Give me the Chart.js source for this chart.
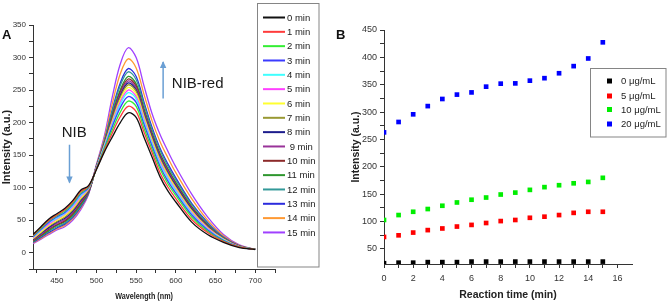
<!DOCTYPE html>
<html><head><meta charset="utf-8">
<script src="https://cdn.jsdelivr.net/npm/chart.js@4/dist/chart.umd.min.js"></script>
<style>
html,body{margin:0;padding:0;background:#fff;}
#wrap{position:relative;width:669px;height:308px;overflow:hidden;background:#fff;}
canvas{position:absolute;top:0;}
#ca{left:0;} #cb{left:330px;}
</style></head><body>
<div id="wrap"><canvas id="ca" width="330" height="308"></canvas><canvas id="cb" width="339" height="308"></canvas></div>
<script>
// ---------- Panel A data ----------
const wavelengths = [420,430,440,450,460,470,480,490,500,510,520,530,540,550,560,570,580,590,600,620,640,660,680,700];
const timeLabels = ['0 min','1 min','2 min','3 min','4 min','5 min','6 min','7 min','8 min',' 9 min','10 min','11 min','12 min','13 min','14 min','15 min'];
const min0  = [28,40,52,60,68,80,96,103,128,155,178,200,215,208,177,147,117,95,78,47,28,16,8,5];
const min1  = [27,39,50,58,66,78,94,102,129,157,184,209,225,217,185,154,123,101,83,51,31,17,8.5,5];
const min2  = [26,37.5,49,57,64,76,92,101,129,160,189,216,233,225,191,159,129,106,88,55,33,18,9,5];
const min3  = [25,36,47,55,62,74,90,100,130,161,194,223,240,231,197,164,133,110,91.5,58,35,19,9,5];
const min4  = [24,35,46,53,60.5,72,88,99.5,130.5,163,197,228,246,236.5,201.5,168,137,114,95,60,36,20,9,5];
const min5  = [23,34,44,52,59,70,86,99,131,164,200,231.5,250,240,205,170,140,116,97,62,37.5,20,9.5,5];
const min6  = [22,32,42,50,57,68,84,98,131,165,202,235,254,244,208,173,142,119,99,64,38.5,21,9.5,5];
const min7  = [21.5,31,41,48,55,66,82,97,131.5,166,205,239,258,248,211,176,145,121,101,65.5,39.5,21,9.7,5];
const min8  = [20.5,30,39,47,53,64,80,96,132,166.5,206.5,241,261,250,213,178,147,123,103,67,40.5,21.5,9.8,5];
const min9  = [19.5,28.5,37.5,45,51,62,78,95,132,167,208,244,264,253,216,180,149,125,104.5,68,41,22,10,5];
const min10 = [18.5,27,36,43,49,60,76,94,132,168,210,247,267,256,218,182,151,127,106,69.5,42,22,10,5];
const min11 = [17.5,26,34,42,47.5,58,74,93.5,132.5,169,213,250,271,259.5,221,184.5,153,129,108,71,43,22.5,10,5];
const min12 = [17,25,33,40,45.5,56,72,92.5,133,171,217,257,278,266,227,189,158,133,112,74,45,23.5,10.5,5];
const min13 = [16,23.5,31,38,44,54,70,91.5,133.5,172,220,261,283,271,231,193,161,136.5,115,76,46.5,24,10.7,5];
const min14 = [15,22,29.5,36.5,42,52,68,91,134.5,176,229.5,275,298,284,243,203,171,146,123,83,50,26,11.3,5];
const min15 = [14,21,28,35,40,50,66,90,136,180,240,290,315,300,256,214,182,156,132,90,55,28,12,5];
const spectra = [min0,min1,min2,min3,min4,min5,min6,min7,min8,min9,min10,min11,min12,min13,min14,min15];
const lineColors = ['#111111','#ff3b3b','#33ee33','#3b3bff','#40ffff','#ff40ff','#ffff30','#999933','#1c1c8c','#993399','#8c2a2a','#2e962e','#339999','#2b2bdd','#ff9933','#a040ff'];
const xTicksA = [425,450,475,500,525,550,575,600,625,650,675,700,725];
const yTicksA = [-25,0,25,50,75,100,125,150,175,200,225,250,275,300,325,350];

// ---------- Panel B data ----------
const reactionTimes = [0,1,2,3,4,5,6,7,8,9,10,11,12,13,14,15];
const conc0  = [24,25,25,26,26,26,27,27,27,27,27,27,27,27,27,27];
const conc5  = [72,75,80,84.5,87.5,91,94,97.5,101,103,107,109,112,116,118,118];
const conc10 = [103,112,118,123,129,135,140,144,149.5,153,158,163,166.5,170,172.5,180];
const conc20 = [263,282,296,311,324,332,336,346.5,352,352.5,357.5,362,371,384,398,427.5];
const concLabels = ['0 μg/mL','5 μg/mL','10 μg/mL','20 μg/mL'];
const concColors = ['#000000','#ff0000','#00ee00','#0000ff'];
const xTicksB = [0,1,2,3,4,5,6,7,8,9,10,11,12,13,14,15,16];
const yTicksB = [50,75,100,125,150,175,200,225,250,275,300,325,350,375,400,425,450];

const NARROW = '"Liberation Sans Narrow","Liberation Sans",Arial,sans-serif';
const SANS = '"Liberation Sans",Arial,sans-serif';
const AXIS = '#333333';

function arrow(c, x, y1, y2, color){
  c.save(); c.strokeStyle=color; c.fillStyle=color; c.lineWidth=1.5;
  c.beginPath(); c.moveTo(x,y1); c.lineTo(x,y2); c.stroke();
  const d = y2>y1 ? 1 : -1;
  c.beginPath(); c.moveTo(x,y2+d*1); c.lineTo(x-3.2,y2-d*6); c.lineTo(x+3.2,y2-d*6); c.closePath(); c.fill();
  c.restore();
}

const panelA = {
  id:'panelA',
  afterDraw(chart){
    const c = chart.ctx, xs = chart.scales.x, ys = chart.scales.y;
    c.save();
    c.fillStyle='#111'; c.textBaseline='middle'; c.textAlign='left';
    c.font='bold 13px '+SANS; c.fillText('A', 2, 35);
    c.save(); c.font='bold 9px '+NARROW; c.textAlign='center'; c.fillStyle='#222';
    c.translate((xs.getPixelForValue(420)+xs.getPixelForValue(700))/2, 297); c.scale(0.8,1);
    c.fillText('Wavelength (nm)',0,0); c.restore();
    c.font='15px '+SANS; c.fillStyle='#1a1a1a';
    c.textAlign='center'; c.fillText('NIB', xs.getPixelForValue(472), ys.getPixelForValue(185));
    c.textAlign='left'; c.fillText('NIB-red', xs.getPixelForValue(595), ys.getPixelForValue(259));
    arrow(c, xs.getPixelForValue(466), ys.getPixelForValue(166), ys.getPixelForValue(108), '#6a9fd4');
    arrow(c, xs.getPixelForValue(584), ys.getPixelForValue(237), ys.getPixelForValue(293), '#6a9fd4');
    c.fillStyle='#fff'; c.fillRect(257,3,62,264);
    c.strokeStyle='#858585'; c.lineWidth=1; c.strokeRect(257.5,3.5,61.5,263.5);
    c.font='9.5px '+SANS; c.textAlign='left'; c.fillStyle='#222';
    chart.data.datasets.forEach((ds,i)=>{
      const y = 17.5 + i*14.33;
      c.strokeStyle=ds.borderColor; c.lineWidth=2;
      c.beginPath(); c.moveTo(263,y); c.lineTo(285,y); c.stroke();
      c.fillText(ds.label, 287, y+0.5);
    });
    c.restore();
  }
};

const panelB = {
  id:'panelB',
  afterDraw(chart){
    const c = chart.ctx;
    c.save();
    c.fillStyle='#111'; c.textBaseline='middle'; c.textAlign='left';
    c.font='bold 13px '+SANS; c.fillText('B', 6, 35);
    c.fillStyle='#fff'; c.fillRect(260,68,76,69);
    c.strokeStyle='#858585'; c.lineWidth=1; c.strokeRect(260.5,68.5,75.5,68.5);
    c.font='9.5px '+SANS;
    const rows=[81,96,109.5,124];
    chart.data.datasets.forEach((ds,i)=>{
      c.fillStyle=ds.backgroundColor; c.fillRect(277,rows[i]-2.5,5,5);
      c.fillStyle='#222'; c.fillText(ds.label, 291, rows[i]+0.5);
    });
    c.restore();
  }
};

const axisCommon = {
  grid:{drawOnChartArea:false, drawTicks:true, tickLength:4, color:AXIS},
  border:{display:true, color:AXIS, width:1}
};

new Chart(document.getElementById('ca'), {
  type:'line',
  data:{datasets: spectra.map((s,i)=>({
    label: timeLabels[i],
    data: wavelengths.map((w,j)=>({x:w, y:s[j]})),
    borderColor: lineColors[i], backgroundColor: lineColors[i],
    borderWidth:1.3, pointRadius:0, tension:0.35, fill:false
  }))},
  options:{
    responsive:false, devicePixelRatio:1, animation:false,
    layout:{padding:{left:0,right:55,top:25,bottom:0}},
    plugins:{legend:{display:false}, tooltip:{enabled:false}},
    scales:{
      x:{type:'linear', min:420, max:725, ...axisCommon,
        afterBuildTicks:s=>{s.ticks = xTicksA.map(v=>({value:v}));},
        afterFit:s=>{s.height=39;},
        ticks:{autoSkip:false, maxRotation:0, padding:3, color:'#333', font:{family:NARROW,size:8},
          callback:v=>(v%50===0 && v<=700)?String(v):''}},
      y:{type:'linear', min:-25, max:350, ...axisCommon,
        afterBuildTicks:s=>{s.ticks = yTicksA.map(v=>({value:v}));},
        afterFit:s=>{s.width=33;},
        ticks:{autoSkip:false, padding:3, color:'#333', font:{family:NARROW,size:8},
          callback:v=>(v%50===0)?String(v):''},
        title:{display:true, text:'Intensity (a.u.)', color:'#222', font:{family:SANS,size:11,weight:'bold'}, padding:{top:0.5,bottom:0}}}
    }
  },
  plugins:[panelA]
});

new Chart(document.getElementById('cb'), {
  type:'scatter',
  data:{datasets:[conc0,conc5,conc10,conc20].map((s,i)=>({
    label: concLabels[i],
    data: reactionTimes.map((t,j)=>({x:t, y:s[j]})),
    backgroundColor: concColors[i], borderColor: concColors[i],
    pointStyle:'rect', pointRadius:3.3, borderWidth:0
  }))},
  options:{
    responsive:false, devicePixelRatio:1, animation:false,
    layout:{padding:{left:0,right:37,top:30,bottom:0}},
    plugins:{legend:{display:false}, tooltip:{enabled:false}},
    scales:{
      x:{type:'linear', min:0, max:17, ...axisCommon,
        afterBuildTicks:s=>{s.ticks = xTicksB.map(v=>({value:v}));},
        afterFit:s=>{s.height=44;},
        ticks:{autoSkip:false, maxRotation:0, padding:5, color:'#333', font:{family:NARROW,size:9},
          callback:v=>(v%2===0)?String(v):''},
        title:{display:true, text:'Reaction time (min)', color:'#222', font:{family:NARROW,size:10.5,weight:'bold'}, padding:{top:0,bottom:6.5}}},
      y:{type:'linear', min:22.6, max:450, ...axisCommon,
        afterBuildTicks:s=>{s.ticks = yTicksB.map(v=>({value:v}));},
        afterFit:s=>{s.width=54;},
        ticks:{autoSkip:false, padding:3, color:'#333', font:{family:NARROW,size:9},
          callback:v=>(v%50===0)?String(v):''},
        title:{display:true, text:'Intensity (a.u.)', color:'#222', font:{family:SANS,size:10.5,weight:'bold'}, padding:{top:20,bottom:0}}}
    }
  },
  plugins:[panelB]
});
</script>
</body></html>
